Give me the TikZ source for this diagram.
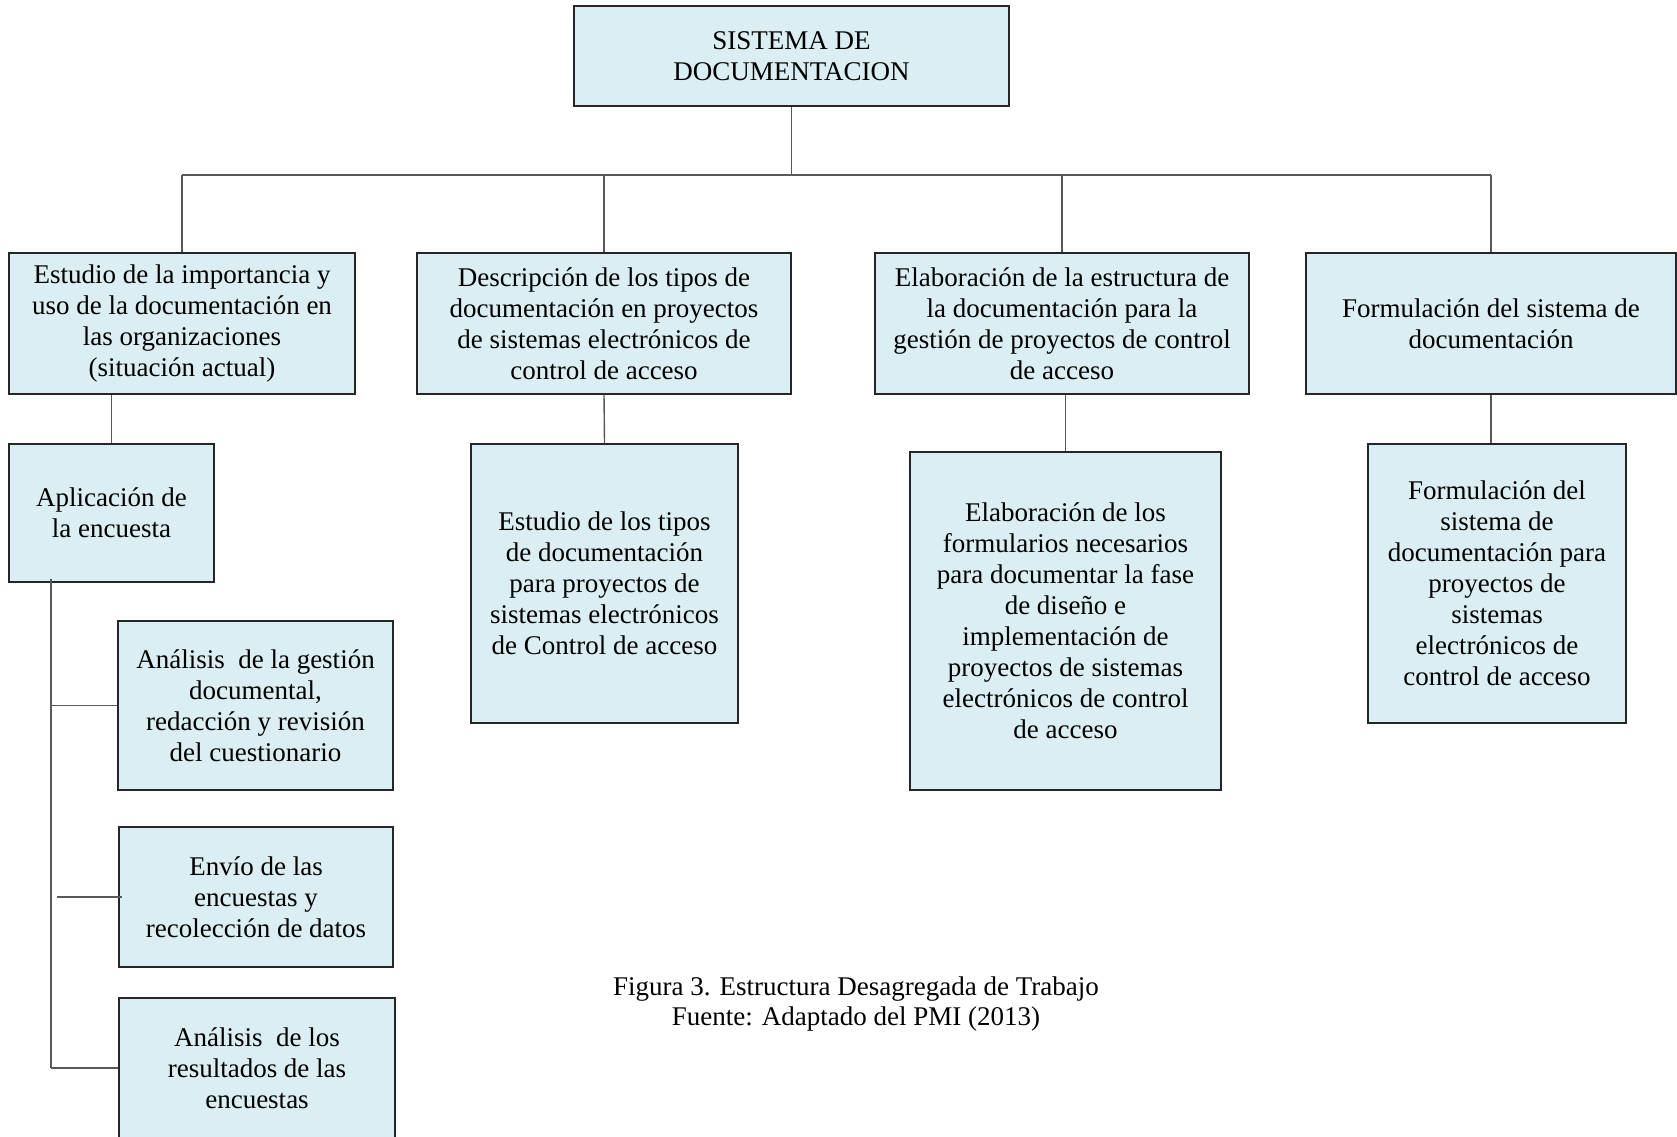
\documentclass[tikz,border=0pt]{standalone}
\usepackage{fontspec}
\setmainfont{Liberation Serif}
\usetikzlibrary{positioning}
\definecolor{boxfill}{HTML}{DAEEF3}
\definecolor{linegray}{HTML}{595959}

\begin{document}
\begin{tikzpicture}[x=1pt,y=-1pt,
  font=\fontsize{27}{31}\selectfont,
  wbs/.style={draw=black!85,fill=boxfill,line width=1.4pt,align=center,inner sep=0pt},
  link/.style={draw=linegray,line width=1.4pt}]
\useasboundingbox (0,0) rectangle (1677,1136);

\node[wbs,minimum width=435,minimum height=100] (top) at (791.5,56) {SISTEMA DE\\DOCUMENTACION};

\node[wbs,minimum width=346,minimum height=141] (e1) at (182,323.5)  {Estudio de la importancia y\\uso de la documentación en\\las organizaciones\\(situación actual)};
\node[wbs,minimum width=374,minimum height=141] (e2) at (604,323.5)  {Descripción de los tipos de\\documentación en proyectos\\de sistemas electrónicos de\\control de acceso};
\node[wbs,minimum width=374,minimum height=141] (e3) at (1062,323.5) {Elaboración de la estructura de\\la documentación para la\\gestión de proyectos de control\\de acceso};
\node[wbs,minimum width=370,minimum height=141] (e4) at (1491,323.5) {Formulación del sistema de\\documentación};

\node[wbs,minimum width=205,minimum height=138] (a0) at (111.5,513)  {Aplicación de\\la encuesta};
\node[wbs,minimum width=267,minimum height=279] (d1) at (604.5,583.5) {Estudio de los tipos\\de documentación\\para proyectos de\\sistemas electrónicos\\de Control de acceso};
\node[wbs,minimum width=311,minimum height=338] (f1) at (1065.5,621) {Elaboración de los\\formularios necesarios\\para documentar la fase\\de diseño e\\implementación de\\proyectos de sistemas\\electrónicos de control\\de acceso};
\node[wbs,minimum width=258,minimum height=279] (g1) at (1497,583.5) {Formulación del\\sistema de\\documentación para\\proyectos de\\sistemas\\electrónicos de\\control de acceso};

\node[wbs,minimum width=275,minimum height=169] (a1) at (255.5,705.5) {Análisis\ \ de la gestión\\documental,\\redacción y revisión\\del cuestionario};
\node[wbs,minimum width=274,minimum height=140] (a2) at (256,897)     {Envío de las\\encuestas y\\recolección de datos};
\node[wbs,minimum width=276,minimum height=140] (a3) at (257,1068)    {Análisis\ \ de los\\resultados de las\\encuestas};

% tree links
\coordinate (bus) at (0,175);
\draw[link] (top.south) -- (top.south |- bus);
\draw[link] (e1.north |- bus) -- (e4.north |- bus);
\foreach \n in {e1,e2,e3,e4}
  \draw[link] (\n.north |- bus) -- (\n.north);

\draw[link] (a0.north |- e1.south) -- (a0.north);
\draw[link] (e2.south) -- (d1.north);
\draw[link] (f1.north |- e3.south) -- (f1.north);
\draw[link] (e4.south) -- (e4.south |- g1.north);

% survey branch
\coordinate (spine) at (51,579);
\coordinate (stub) at (57,897);
\draw[link] (spine) -- (spine |- a3.west);
\draw[link] (spine |- a1.west) -- (a1.west);
\draw[link] (stub) -- ([xshift=4pt]a2.west);
\draw[link] (spine |- a3.west) -- (a3.west);

\node (cap1) at (856,989)  {Figura 3. Estructura Desagregada de Trabajo};
\node (cap2) at (856,1019) {Fuente: Adaptado del PMI (2013)};

\end{tikzpicture}
\end{document}
